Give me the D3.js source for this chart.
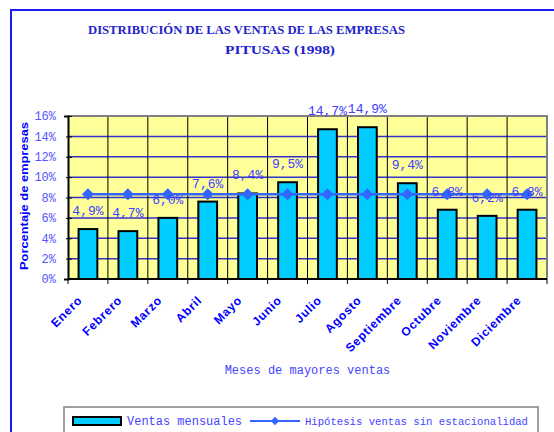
<!DOCTYPE html>
<html><head><meta charset="utf-8">
<script src="https://cdn.jsdelivr.net/npm/d3@7"></script>
<style>body{margin:0;background:#fff}svg{display:block}</style>
</head><body>
<svg id="c" width="554" height="432"></svg>
<script>
const months = ["Enero","Febrero","Marzo","Abril","Mayo","Junio","Julio","Agosto","Septiembre","Octubre","Noviembre","Diciembre"];
const ventas = [4.9,4.7,6.0,7.6,8.4,9.5,14.7,14.9,9.4,6.8,6.2,6.8];
const hipotesis = [8.33,8.33,8.33,8.33,8.33,8.33,8.33,8.33,8.33,8.33,8.33,8.33];
const yTicks = [0,2,4,6,8,10,12,14,16];
const titleLines = ["DISTRIBUCIÓN DE LAS VENTAS DE LAS EMPRESAS","PITUSAS (1998)"];
const yTitle = "Porcentaje de empresas";
const xTitle = "Meses de mayores ventas";
const legendLabels = ["Ventas mensuales","Hipótesis ventas sin estacionalidad"];

const svg = d3.select("#c");
const L=68, R=547, T=116, B=279;
const x = d3.scaleBand().domain(months).range([L,R]).padding(0);
const y = d3.scaleLinear().domain([0,16]).range([B,T]);
const mono = "'Liberation Mono','DejaVu Sans Mono',monospace";

// outer frame
svg.append("path").attr("d","M11,432 L11,10 L554,10").attr("fill","none").attr("stroke","#1a1aff").attr("stroke-width",2);

// title
svg.append("text").attr("x",88).attr("y",34).attr("textLength",317).attr("lengthAdjust","spacingAndGlyphs")
  .attr("font-family","'Liberation Serif','DejaVu Serif',serif").attr("font-weight","bold").attr("font-size",12)
  .attr("fill","#2222cc").text(titleLines[0]);
svg.append("text").attr("x",225).attr("y",54).attr("textLength",110).attr("lengthAdjust","spacingAndGlyphs")
  .attr("font-family","'Liberation Serif','DejaVu Serif',serif").attr("font-weight","bold").attr("font-size",12)
  .attr("fill","#2222cc").text(titleLines[1]);

// plot background
svg.append("rect").attr("x",L).attr("y",T).attr("width",R-L).attr("height",B-T).attr("fill","#ffff99");

// horizontal gridlines
svg.append("g").selectAll("line").data(yTicks.slice(1,-1)).join("line")
  .attr("x1",L).attr("x2",R).attr("y1",d=>y(d)).attr("y2",d=>y(d))
  .attr("stroke","#3333cc").attr("stroke-width",1.5);

// vertical gridlines at category boundaries
svg.append("g").selectAll("line").data(months.slice(1)).join("line")
  .attr("x1",d=>x(d)).attr("x2",d=>x(d)).attr("y1",T).attr("y2",B)
  .attr("stroke","#000").attr("stroke-width",1);

// border top/right gray
svg.append("path").attr("d",`M${L},${T} L${R},${T} L${R},${B}`).attr("fill","none").attr("stroke","#808080").attr("stroke-width",2);

// bars
const bw = x.bandwidth()*0.47;
svg.append("g").selectAll("rect").data(ventas).join("rect")
  .attr("x",(d,i)=>x(months[i])+x.bandwidth()/2-bw/2)
  .attr("y",d=>y(d)).attr("width",bw).attr("height",d=>B-y(d))
  .attr("fill","#00ccff").attr("stroke","#000").attr("stroke-width",2);

// axes
const yAxis = d3.axisLeft(y).tickValues(yTicks).tickSize(4).tickFormat(d=>d+"%");
const gy = svg.append("g").attr("transform",`translate(${L},0)`).call(yAxis);
gy.select(".domain").attr("stroke","#000").attr("stroke-width",2);
gy.selectAll(".tick line").attr("stroke","#000").attr("x2",4).attr("x1",-2);
gy.selectAll(".tick text").attr("x",-12).attr("font-family",mono).attr("font-size",12).attr("fill","#5555ff");

const gx = svg.append("g").attr("transform",`translate(0,${B})`);
gx.append("line").attr("x1",L).attr("x2",R).attr("stroke","#000").attr("stroke-width",2);
gx.selectAll(".tk").data(months.concat(["_end"])).join("line").attr("class","tk")
  .attr("x1",(d,i)=>i<12?x(d):R).attr("x2",(d,i)=>i<12?x(d):R).attr("y1",0).attr("y2",5)
  .attr("stroke","#000").attr("stroke-width",1);

gx.selectAll(".lb").data(months).join("text").attr("class","lb")
  .attr("transform",d=>`translate(${x(d)+x.bandwidth()/2-5},${22}) rotate(-45)`)
  .attr("text-anchor","end").attr("font-family","'Liberation Sans',Arial,sans-serif").attr("font-weight","bold")
  .attr("font-size",12).attr("letter-spacing",0.8).attr("fill","#0000ff").text(d=>d);

// hypothesis line
const line = d3.line().x((d,i)=>x(months[i])+x.bandwidth()/2).y(d=>y(d));
svg.append("path").datum(hipotesis).attr("d",line).attr("fill","none").attr("stroke","#3366ff").attr("stroke-width",2.5);
svg.append("g").selectAll("path").data(hipotesis).join("path")
  .attr("d",d3.symbol().type(d3.symbolSquare).size(72))
  .attr("transform",(d,i)=>`translate(${x(months[i])+x.bandwidth()/2},${y(d)}) rotate(45)`)
  .attr("fill","#3366ff");

// data labels
svg.append("g").selectAll("text").data(ventas).join("text")
  .attr("x",(d,i)=>x(months[i])+x.bandwidth()/2).attr("y",d=>y(d)-14)
  .attr("text-anchor","middle").attr("font-family",mono).attr("font-size",13).attr("fill","#4040ff")
  .text(d=>d.toFixed(1).replace(".",",")+"%");

// axis titles
svg.append("text").attr("transform","translate(28,196) rotate(-90)").attr("text-anchor","middle")
  .attr("font-family","'Liberation Sans',Arial,sans-serif").attr("font-weight","bold").attr("font-size",11)
  .attr("textLength",148).attr("lengthAdjust","spacingAndGlyphs").attr("fill","#0000ff").text(yTitle);
svg.append("text").attr("x",(L+R)/2).attr("y",374).attr("text-anchor","middle")
  .attr("font-family",mono).attr("font-size",12).attr("fill","#4444ff").text(xTitle);

// legend
svg.append("rect").attr("x",64).attr("y",407).attr("width",474).attr("height",40).attr("fill","#fff").attr("stroke","#808080").attr("stroke-width",1.5);
svg.append("rect").attr("x",73).attr("y",417).attr("width",48).attr("height",8).attr("fill","#00ccff").attr("stroke","#000").attr("stroke-width",2);
svg.append("text").attr("x",127).attr("y",425).attr("textLength",115).attr("lengthAdjust","spacingAndGlyphs")
  .attr("font-family",mono).attr("font-size",12).attr("fill","#4444ff").text(legendLabels[0]);
svg.append("line").attr("x1",250).attr("x2",300).attr("y1",421).attr("y2",421).attr("stroke","#3366ff").attr("stroke-width",2);
svg.append("path").attr("d",d3.symbol().type(d3.symbolSquare).size(36)).attr("transform","translate(275,421) rotate(45)").attr("fill","#3366ff");
svg.append("text").attr("x",305).attr("y",425).attr("textLength",223).attr("lengthAdjust","spacingAndGlyphs")
  .attr("font-family",mono).attr("font-size",11.5).attr("fill","#4444ff").text(legendLabels[1]);
</script>
</body></html>
